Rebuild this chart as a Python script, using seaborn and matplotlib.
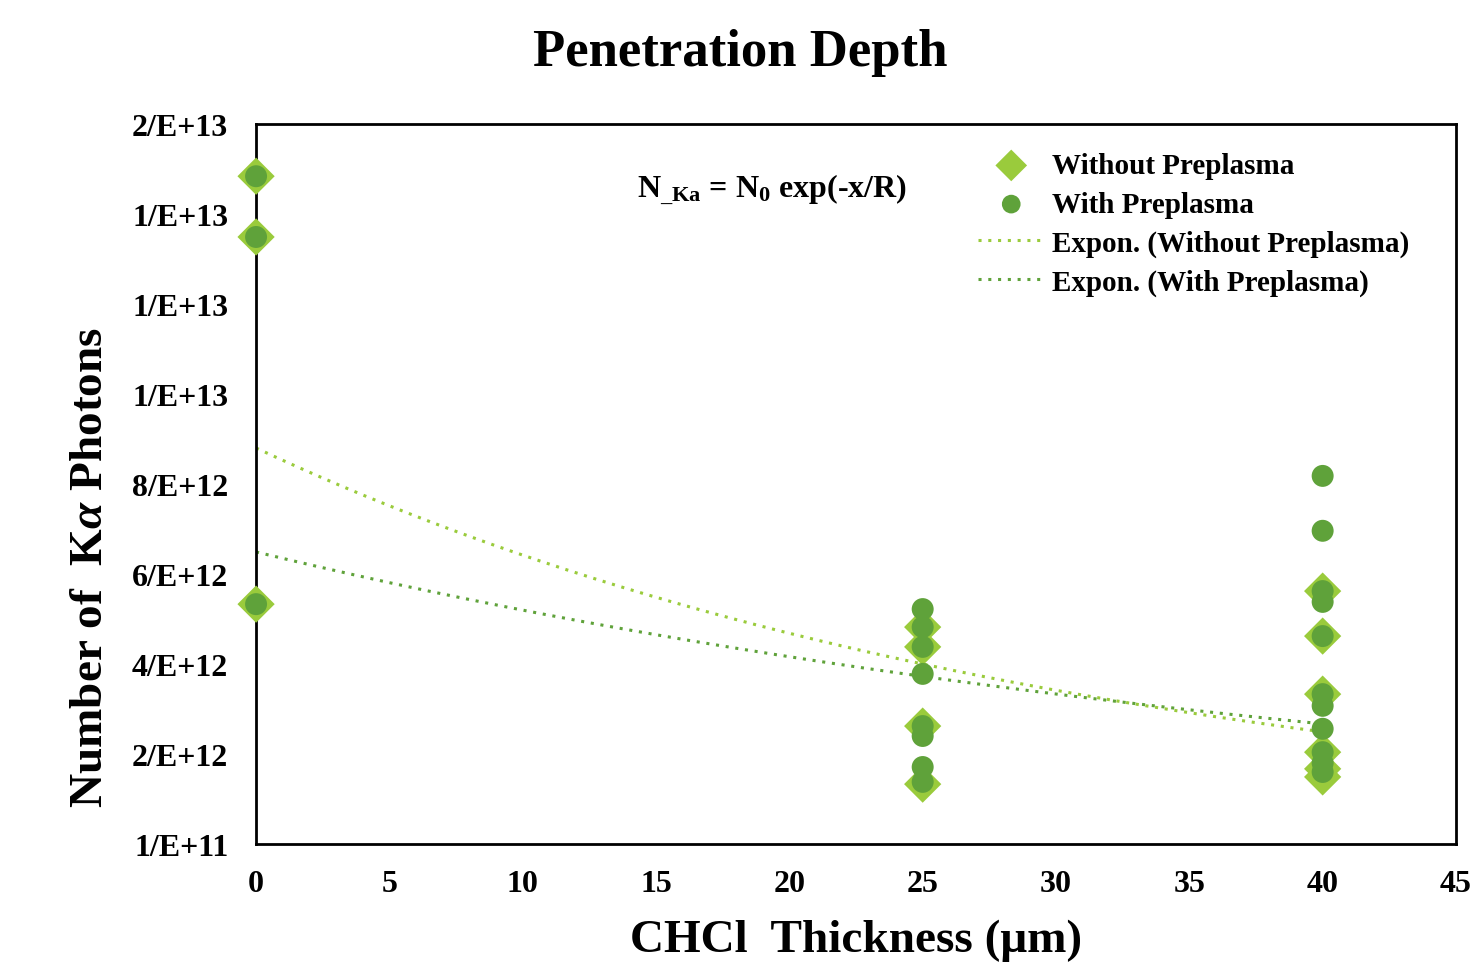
import numpy as np
import pandas as pd
import matplotlib
matplotlib.use("Agg")
import matplotlib.pyplot as plt
import seaborn as sns

sns.set_style("white")
plt.rcParams['font.family'] = ['Liberation Serif', 'DejaVu Serif']
plt.rcParams['font.weight'] = 'bold'
plt.rcParams['text.color'] = 'black'
plt.rcParams['axes.labelcolor'] = 'black'
plt.rcParams['xtick.color'] = 'black'
plt.rcParams['ytick.color'] = 'black'
plt.rcParams['mathtext.fontset'] = 'custom'
plt.rcParams['mathtext.rm'] = 'Liberation Serif:bold'
plt.rcParams['mathtext.it'] = 'Liberation Serif:bold:italic'
plt.rcParams['mathtext.bf'] = 'Liberation Serif:bold'

# thickness (um) and number of K-alpha photons (x 1e12)
x_without = [0, 0, 0, 25, 25, 25, 25, 40, 40, 40, 40, 40, 40]
y_without = [14.84, 13.49, 5.33, 4.82, 4.38, 2.62, 1.33, 5.62, 4.62, 3.33, 2.04, 1.67, 1.49]

x_with = [0, 0, 0, 25, 25, 25, 25, 25, 25, 25, 25,
          40, 40, 40, 40, 40, 40, 40, 40, 40, 40, 40]
y_with = [14.84, 13.49, 5.33, 5.22, 4.82, 4.38, 3.78, 2.62, 2.40, 1.71, 1.38,
          8.18, 6.96, 5.62, 5.38, 4.62, 3.33, 3.07, 2.56, 2.04, 1.80, 1.60]

# exponential trendlines N = N0 * exp(-x/R)
trend_n0 = [8.80, 6.49]     # x 1e12
trend_r = [31.7, 45.0]      # um

y_ticks = [0, 2, 4, 6, 8, 10, 12, 14, 16]
y_tick_labels = ["1/E+11", "2/E+12", "4/E+12", "6/E+12", "8/E+12",
                 "1/E+13", "1/E+13", "1/E+13", "2/E+13"]
x_ticks = [0, 5, 10, 15, 20, 25, 30, 35, 40, 45]

c_without = "#9ACB3C"
c_with = "#5FA23A"

df_without = pd.DataFrame({"x": x_without, "y": np.array(y_without) * 1e12})
df_with = pd.DataFrame({"x": x_with, "y": np.array(y_with) * 1e12})

fig = plt.figure(figsize=(14.81, 9.70), dpi=100)
ax = fig.add_axes([0.1729, 0.1289, 0.8102, 0.7422])

sns.scatterplot(data=df_without, x="x", y="y", marker="D", s=360, color=c_without,
                edgecolor="none", label="Without Preplasma", ax=ax, zorder=3, clip_on=False)
sns.scatterplot(data=df_with, x="x", y="y", marker="o", s=250, color=c_with,
                edgecolor="none", label="With Preplasma", ax=ax, zorder=4, clip_on=False)

xx = np.linspace(0, 40, 200)
for n0, r, c, lab in [(trend_n0[0], trend_r[0], c_without, "Expon. (Without Preplasma)"),
                      (trend_n0[1], trend_r[1], c_with, "Expon. (With Preplasma)")]:
    sns.lineplot(x=xx, y=n0 * 1e12 * np.exp(-xx / r), color=c, lw=2.2, ls=(0, (1, 2.2)),
                 label=lab, ax=ax, zorder=2)

ax.set_xlim(0, 45)
ax.set_ylim(0, 16e12)
ax.set_xticks(x_ticks)
ax.set_xticklabels([str(t) for t in x_ticks], fontsize=23, fontweight="bold")
ax.set_yticks(np.array(y_ticks) * 1e12)
ax.set_yticklabels(y_tick_labels, fontsize=23, fontweight="bold")
ax.tick_params(direction="in", length=8, width=1.5)
ax.tick_params(axis="y", pad=20)
ax.tick_params(axis="x", pad=18)
for s in ax.spines.values():
    s.set_linewidth(2)
    s.set_color("black")

ax.set_xlabel("CHCl  Thickness (\u03bcm)", fontsize=34, fontweight="bold")
ax.set_ylabel(r"Number of  K$\alpha$ Photons", fontsize=34, fontweight="bold")
ax.xaxis.set_label_coords(0.5, -0.104)
ax.yaxis.set_label_coords(-0.12, 0.385)
fig.suptitle("Penetration Depth", fontsize=38, fontweight="bold", y=0.97)

ax.text(0.43, 0.91, r"N$_{\_\mathrm{Ka}}$ = N$_0$ exp(-x/R)", transform=ax.transAxes,
        ha="center", va="center", fontsize=23, fontweight="bold")

leg = ax.legend(loc="upper right", bbox_to_anchor=(0.983, 0.9975), frameon=False,
                prop={"size": 21, "weight": "bold"}, handlelength=2.3,
                handletextpad=0.25, labelspacing=0.4, markerscale=0.85)

fig.savefig("out.png", dpi=100)
